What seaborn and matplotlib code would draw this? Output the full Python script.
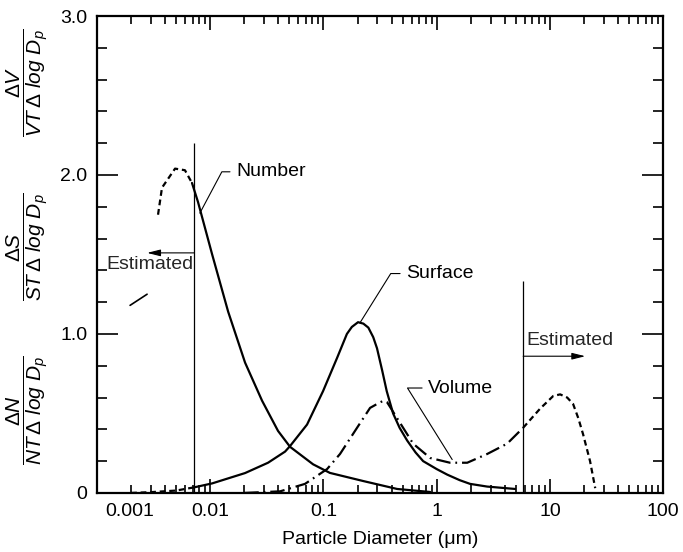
import numpy as np
import matplotlib
matplotlib.use("Agg")
import matplotlib.pyplot as plt
import matplotlib.transforms as mtransforms
from matplotlib.ticker import LogLocator, NullFormatter, MultipleLocator
import seaborn as sns

# Number distribution (estimated part, then measured part)
number_est_d = [0.00346, 0.00375, 0.00489, 0.00598, 0.0069]
number_est_v = [1.75, 1.92, 2.04, 2.03, 1.95]
number_d = [0.0069, 0.0078, 0.0104, 0.0144, 0.0203, 0.0287, 0.0397, 0.0507,
            0.081, 0.114, 0.224, 0.447, 0.875]
number_v = [1.95, 1.83, 1.50, 1.14, 0.82, 0.58, 0.39, 0.29,
            0.18, 0.126, 0.075, 0.025, 0.006]

# Surface distribution
surface_est_d = [0.002, 0.003, 0.005, 0.0072]
surface_est_v = [0.0, 0.005, 0.015, 0.035]
surface_d = [0.0072, 0.0104, 0.0203, 0.0324, 0.0458, 0.0507, 0.0716, 0.0991,
             0.132, 0.161, 0.178, 0.202, 0.225, 0.249, 0.275, 0.297, 0.33,
             0.362, 0.412, 0.47, 0.548, 0.65, 0.759, 1.0, 1.24, 1.6, 1.97,
             2.79, 4.93]
surface_v = [0.035, 0.06, 0.125, 0.19, 0.26, 0.295, 0.43, 0.64,
             0.85, 1.0, 1.044, 1.074, 1.065, 1.04, 0.98, 0.91, 0.77,
             0.64, 0.50, 0.41, 0.33, 0.255, 0.20, 0.15, 0.115, 0.08, 0.057,
             0.04, 0.025]

# Volume distribution (measured part, then estimated coarse part)
volume_d = [0.02, 0.0414, 0.0687, 0.1076, 0.140, 0.198, 0.258, 0.316, 0.34,
            0.365, 0.447, 0.619, 0.875, 1.31, 1.86, 2.79, 4.19, 5.8]
volume_v = [0.0, 0.01, 0.057, 0.15, 0.245, 0.41, 0.535, 0.57, 0.58,
            0.57, 0.47, 0.31, 0.22, 0.19, 0.19, 0.245, 0.31, 0.41]
volume_est_d = [5.8, 8.18, 10.7, 12.3, 14.2, 16.0, 17.8, 19.6, 22.6, 25.1]
volume_est_v = [0.41, 0.53, 0.61, 0.62, 0.60, 0.56, 0.47, 0.37, 0.2, 0.03]

# small stray stroke left of the cutoff
fragment_d = [0.00196, 0.00277]
fragment_v = [1.18, 1.25]

# measurement limits
cutoff_d = [0.0072, 5.8]
cutoff_top = [2.2, 1.33]

x_ticks = [0.001, 0.01, 0.1, 1, 10, 100]
x_tick_labels = ["0.001", "0.01", "0.1", "1", "10", "100"]
y_ticks = [0, 1, 2, 3]
y_tick_labels = ["0", "1.0", "2.0", "3.0"]

sns.set_theme(style="ticks")
plt.rcParams["font.family"] = ["Liberation Sans", "DejaVu Sans"]
plt.rcParams["mathtext.fontset"] = "custom"
plt.rcParams["mathtext.rm"] = "Liberation Sans"
plt.rcParams["mathtext.it"] = "Liberation Sans:italic"

fig, ax = plt.subplots(figsize=(6.83, 5.52), dpi=100)
fig.subplots_adjust(left=0.142, right=0.971, bottom=0.107, top=0.971)

solid = "-"
dashed = (0, (2.6, 1.7))
dashdot = (0, (6.5, 2.2, 0.8, 2.2))

def draw(d, v, ls, lw=1.6):
    sns.lineplot(x=d, y=v, ax=ax, color="black", linewidth=lw, linestyle=ls,
                 estimator=None, sort=False)

draw(number_est_d, number_est_v, dashed)
draw(number_d, number_v, solid)
draw(surface_est_d, surface_est_v, dashed)
draw(surface_d, surface_v, solid)
draw(volume_d, volume_v, dashdot)
draw(volume_est_d, volume_est_v, dashed)
draw(fragment_d, fragment_v, solid, lw=1.2)

ax.vlines(cutoff_d, 0, cutoff_top, color="black", linewidth=0.9)

ax.set_xscale("log")
ax.set_xlim(0.001, 100)
ax.set_ylim(0, 3)
ax.set_xticks(x_ticks)
ax.set_xticklabels(x_tick_labels)
ax.xaxis.set_minor_locator(LogLocator(base=10, subs=np.arange(2, 10)))
ax.xaxis.set_minor_formatter(NullFormatter())
ax.set_yticks(y_ticks)
ax.set_yticklabels(y_tick_labels)
ax.yaxis.set_minor_locator(MultipleLocator(0.2))

ax.tick_params(which="both", direction="in", top=True, right=True,
               width=1.2, color="black", labelcolor="black", labelsize=14)
ax.tick_params(axis="x", which="major", length=10, pad=7)
ax.tick_params(axis="x", which="minor", length=6)
ax.tick_params(axis="y", which="major", length=15, pad=7)
ax.tick_params(axis="y", which="minor", length=7)
for sp in ax.spines.values():
    sp.set_linewidth(1.6)
    sp.set_color("black")

# the first label sits inside the frame in the original
first = ax.get_xticklabels()[0]
first.set_transform(first.get_transform()
                    + mtransforms.ScaledTranslation(0.33, 0, fig.dpi_scale_trans))

ax.set_xlabel("Particle Diameter (μm)", fontsize=14, labelpad=8, color="black")
ax.set_ylabel("")

ylab_kw = dict(transform=ax.transAxes, rotation=90, ha="center", va="center",
               fontsize=15, color="black")
ax.text(-0.122, 0.86, r"$\dfrac{\Delta V}{VT\,\Delta\ log\ D_p}$", **ylab_kw)
ax.text(-0.122, 0.516, r"$\dfrac{\Delta S}{ST\,\Delta\ log\ D_p}$", **ylab_kw)
ax.text(-0.122, 0.174, r"$\dfrac{\Delta N}{NT\,\Delta\ log\ D_p}$", **ylab_kw)

# curve labels with leader lines
def leader(label, xy, xytext, angle):
    ax.annotate(label, xy=xy, xytext=xytext, ha="left", va="center",
                fontsize=14, color="black",
                arrowprops=dict(arrowstyle="-", lw=0.8, color="black",
                                connectionstyle=f"angle,angleA=0,angleB={angle},rad=0",
                                shrinkA=2, shrinkB=0))

leader("Number", (0.0081, 1.76), (0.0169, 2.02), 62)
leader("Surface", (0.21, 1.07), (0.537, 1.38), 58)
leader("Volume", (1.37, 0.21), (0.84, 0.66), 122)

# "Estimated" arrows
arrow_kw = dict(arrowstyle="-|>,head_length=0.8,head_width=0.2", lw=0.8,
                color="black", shrinkA=0, shrinkB=0, mutation_scale=10)
ax.annotate("", xy=(0.00277, 1.51), xytext=(0.0072, 1.51), arrowprops=arrow_kw)
ax.annotate("", xy=(20.5, 0.86), xytext=(5.8, 0.86), arrowprops=arrow_kw)
ax.text(0.00294, 1.44, "Estimated", ha="center", va="center", fontsize=14)
ax.text(15.1, 0.956, "Estimated", ha="center", va="center", fontsize=14)

fig.savefig("out.png", dpi=100)
